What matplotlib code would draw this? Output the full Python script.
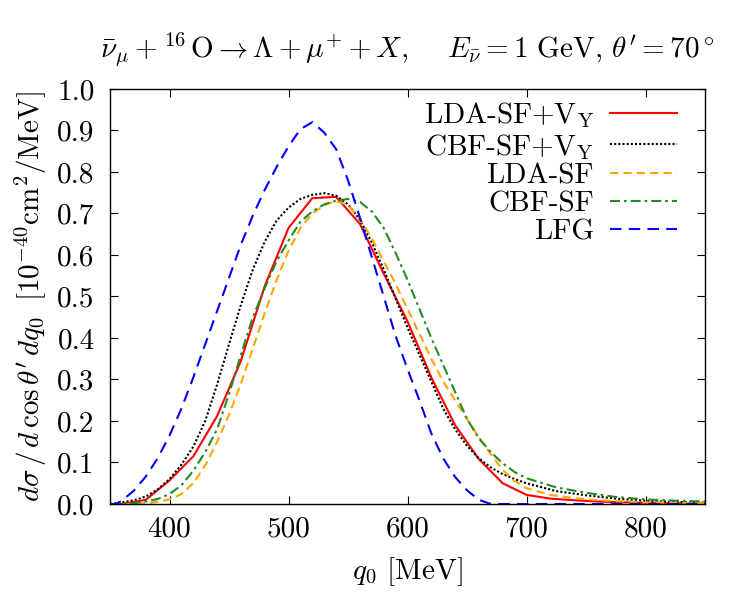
import matplotlib
matplotlib.use("Agg")
import matplotlib.pyplot as plt

plt.rcParams['font.family'] = 'serif'
plt.rcParams['font.serif'] = ['cmr10', 'DejaVu Serif']
plt.rcParams['mathtext.fontset'] = 'cm'
plt.rcParams['axes.formatter.use_mathtext'] = True

# ---- data ----
q_lda_vy = [350, 360, 380, 400, 420, 440, 460, 480, 500, 520, 540, 560, 580, 600,
            620, 640, 660, 680, 700, 720, 740, 760, 780, 800, 820, 840, 850]
y_lda_vy = [0, 0, 0.01, 0.057, 0.115, 0.212, 0.345, 0.525, 0.665, 0.737, 0.74, 0.675,
            0.555, 0.44, 0.305, 0.19, 0.108, 0.05, 0.022, 0.013, 0.009, 0.006, 0.004,
            0.003, 0.002, 0.001, 0.001]

q_cbf_vy = [350, 360, 370, 380, 390, 400, 410, 420, 430, 440, 450, 460, 470, 480, 490,
            500, 510, 520, 530, 540, 550, 560, 570, 580, 590, 600, 610, 620, 630, 640,
            650, 660, 670, 680, 690, 700, 725, 750, 775, 800, 825, 850]
y_cbf_vy = [0, 0.004, 0.009, 0.018, 0.035, 0.06, 0.095, 0.138, 0.2, 0.288, 0.385, 0.48,
            0.565, 0.632, 0.683, 0.714, 0.735, 0.745, 0.749, 0.743, 0.722, 0.685, 0.63,
            0.565, 0.495, 0.425, 0.36, 0.295, 0.23, 0.18, 0.14, 0.11, 0.088, 0.072, 0.06,
            0.05, 0.031, 0.021, 0.013, 0.008, 0.005, 0.003]

q_lda = [350, 370, 380, 390, 400, 410, 420, 430, 440, 450, 460, 470, 480, 490, 500, 510,
         520, 530, 540, 550, 560, 570, 580, 590, 600, 610, 620, 630, 640, 650, 660, 670,
         680, 690, 700, 720, 740, 760, 800, 850]
y_lda = [0, 0, 0.002, 0.005, 0.011, 0.024, 0.05, 0.093, 0.15, 0.215, 0.29, 0.375, 0.46,
         0.54, 0.61, 0.665, 0.70, 0.72, 0.73, 0.72, 0.688, 0.64, 0.585, 0.53, 0.47, 0.41,
         0.35, 0.295, 0.25, 0.205, 0.16, 0.12, 0.082, 0.056, 0.038, 0.022, 0.014, 0.009,
         0.004, 0.002]

q_cbf = [350, 360, 370, 380, 390, 400, 410, 420, 430, 440, 450, 460, 470, 480, 490, 500,
         510, 520, 530, 540, 550, 560, 570, 580, 590, 600, 610, 620, 630, 640, 650, 660,
         670, 680, 690, 700, 725, 750, 775, 800, 825, 850]
y_cbf = [0, 0, 0.002, 0.006, 0.012, 0.024, 0.045, 0.08, 0.125, 0.18, 0.265, 0.36, 0.45,
         0.52, 0.585, 0.635, 0.68, 0.705, 0.722, 0.731, 0.735, 0.728, 0.705, 0.665, 0.605,
         0.54, 0.47, 0.40, 0.335, 0.27, 0.205, 0.158, 0.125, 0.098, 0.077, 0.062, 0.04,
         0.027, 0.017, 0.011, 0.008, 0.006]

q_lfg = [350, 355, 360, 370, 380, 390, 400, 410, 420, 430, 440, 450, 460, 470, 480, 490,
         500, 510, 520, 530, 540, 550, 560, 570, 580, 590, 600, 610, 620, 630, 640, 650,
         660, 670, 700, 750, 800, 850]
y_lfg = [0, 0, 0.008, 0.032, 0.066, 0.11, 0.165, 0.23, 0.305, 0.385, 0.465, 0.545, 0.625,
         0.695, 0.757, 0.812, 0.862, 0.903, 0.92, 0.895, 0.855, 0.78, 0.69, 0.595, 0.50,
         0.405, 0.325, 0.25, 0.17, 0.11, 0.065, 0.033, 0.01, 0, 0, 0, 0, 0]

labels = ['LDA-SF+V$_\\mathrm{Y}$', 'CBF-SF+V$_\\mathrm{Y}$', 'LDA-SF', 'CBF-SF', 'LFG']
x_ticks = [400, 500, 600, 700, 800]
y_ticks = [0.0, 0.1, 0.2, 0.3, 0.4, 0.5, 0.6, 0.7, 0.8, 0.9, 1.0]

FS = 21

fig = plt.figure(figsize=(7.5, 6), dpi=100)
ax = fig.add_axes([0.1467, 0.16, 0.7933, 0.6917])

lw = 1.5
ax.plot(q_lda_vy, y_lda_vy, color='#ff0000', lw=lw, label=labels[0])
l2, = ax.plot(q_cbf_vy, y_cbf_vy, color='black', lw=lw, label=labels[1])
l2.set_dashes((1.0, 1.0))
l3, = ax.plot(q_lda, y_lda, color='#ffa500', lw=lw, label=labels[2])
l3.set_dashes((4, 2.4))
l4, = ax.plot(q_cbf, y_cbf, color='#228b22', lw=lw, label=labels[3])
l4.set_dashes((4.8, 1.9, 1.3, 1.9))
l5, = ax.plot(q_lfg, y_lfg, color='#0000ff', lw=lw, label=labels[4])
l5.set_dashes((5.5, 3.5))

ax.set_xlim(350, 850)
ax.set_ylim(0, 1.0)
ax.set_xticks(x_ticks)
ax.set_xticklabels([str(v) for v in x_ticks])
ax.set_yticks(y_ticks)
ax.set_yticklabels(['%.1f' % v for v in y_ticks])
ax.tick_params(direction='in', top=True, right=True, length=6, width=0.8,
               labelsize=FS)
ax.tick_params(axis='x', pad=9)
ax.tick_params(axis='y', pad=11)
for s in ax.spines.values():
    s.set_linewidth(1.0)

ax.set_xlabel('$q_0$ [MeV]', fontsize=FS, labelpad=9)
ax.set_ylabel(r'$d\sigma\,/\,d\,\cos\theta^\prime\, dq_0\;\;[10^{-40}\mathrm{cm}^2/\mathrm{MeV}]$',
              fontsize=FS, labelpad=6)
ax.set_title(r'$\bar{\nu}_\mu +^{16}\mathrm{\,O} \rightarrow \Lambda + \mu^{+} + X,\quad\ E_{\bar{\nu}} = 1\ \mathrm{GeV},\, \theta^\prime = 70^\circ$',
             fontsize=FS, pad=23)

leg = ax.legend(loc='upper right', bbox_to_anchor=(0.953, 0.973), markerfirst=False,
                frameon=False, fontsize=FS, handlelength=2.3, handletextpad=0.55,
                labelspacing=0.05, borderaxespad=0, borderpad=0)
for col in leg._legend_handle_box.get_children():
    col.align = 'right'

fig.savefig('out.png', dpi=100)
